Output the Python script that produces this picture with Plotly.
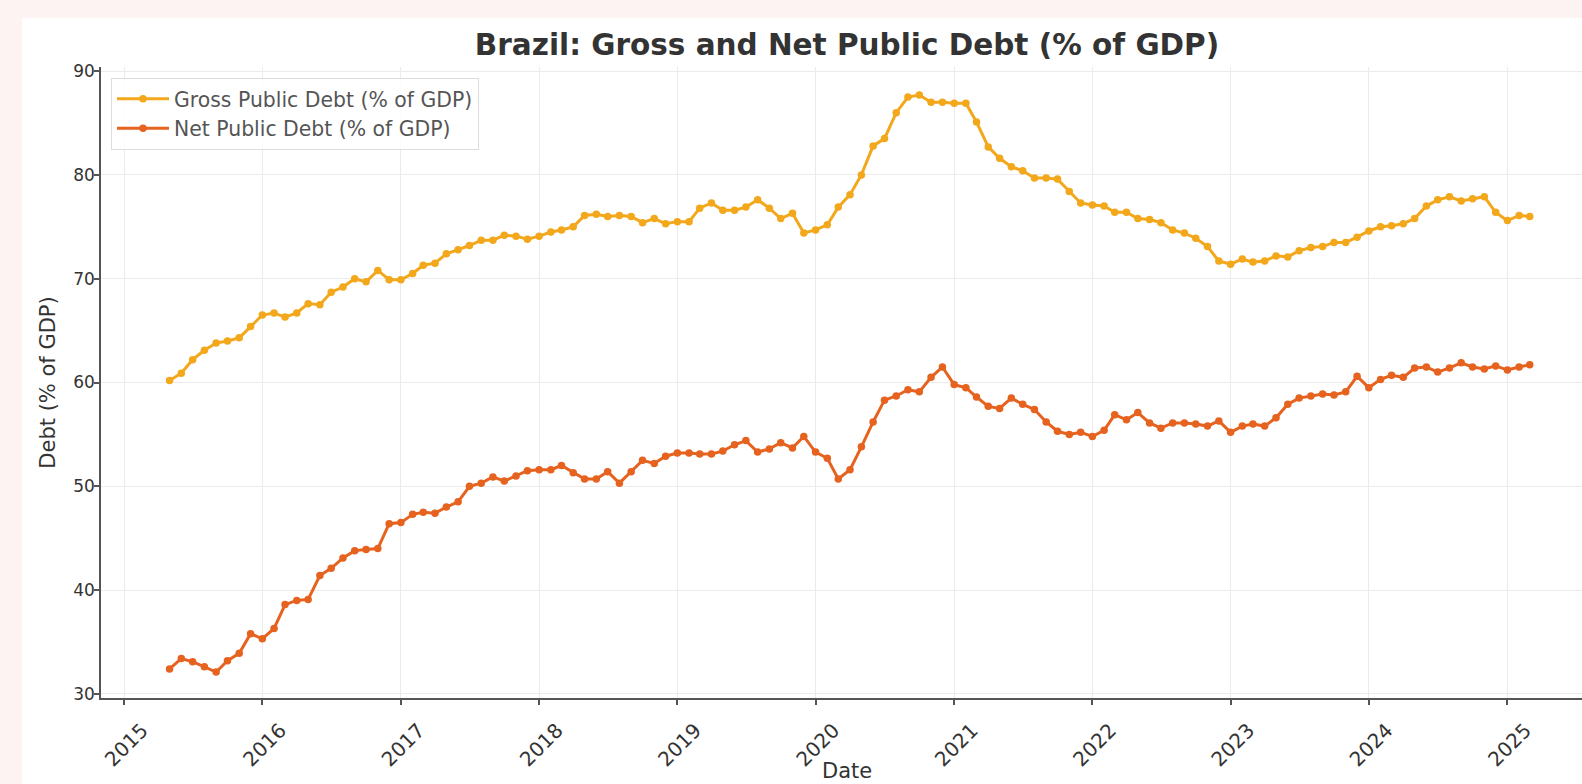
import pandas as pd
import plotly.graph_objects as go

# ---- data (monthly, May 2015 - Mar 2025) ----
start_month = "2015-05-01"
n_months = 119
dates = pd.date_range(start_month, periods=n_months, freq="MS")

gross_debt = [
    60.2, 60.9, 62.2, 63.1, 63.8, 64.0, 64.3, 65.4, 66.5, 66.7, 66.3, 66.7,
    67.6, 67.5, 68.7, 69.2, 70.0, 69.7, 70.8, 69.9, 69.9, 70.5, 71.3, 71.5,
    72.4, 72.8, 73.2, 73.7, 73.7, 74.2, 74.1, 73.8, 74.1, 74.5,
    74.7, 75.0, 76.1, 76.2, 76.0, 76.1, 76.0, 75.4, 75.8, 75.3, 75.5, 75.5,
    76.8, 77.3, 76.6, 76.6, 76.9, 77.6, 76.8, 75.8, 76.3, 74.4, 74.7, 75.2,
    76.9, 78.1, 80.0, 82.8, 83.5, 86.0, 87.5, 87.7, 87.0, 87.0, 86.9, 86.9,
    85.1, 82.7, 81.6, 80.8, 80.4, 79.7,
    79.7, 79.6, 78.4, 77.3, 77.1, 77.0, 76.4, 76.4, 75.8, 75.7, 75.4, 74.7,
    74.4, 73.9, 73.1, 71.7, 71.4, 71.9, 71.6, 71.7, 72.2, 72.1, 72.7, 73.0,
    73.1, 73.5, 73.5, 74.0, 74.6, 75.0, 75.1, 75.3, 75.8, 77.0, 77.6, 77.9,
    77.5, 77.7, 77.9, 76.4, 75.6, 76.1, 76.0,
]

net_debt = [
    32.4, 33.4, 33.1, 32.6, 32.1, 33.2, 33.9, 35.8, 35.3, 36.3, 38.6, 39.0,
    39.1, 41.4, 42.1, 43.1, 43.8, 43.9, 44.0, 46.4, 46.5, 47.3, 47.5, 47.4,
    48.0, 48.5, 50.0, 50.3, 50.9, 50.5, 51.0, 51.5, 51.6, 51.6,
    52.0, 51.3, 50.7, 50.7, 51.4, 50.3, 51.4, 52.5, 52.2, 52.9, 53.2, 53.2,
    53.1, 53.1, 53.4, 54.0, 54.4, 53.3, 53.6, 54.2, 53.7, 54.8, 53.3, 52.7,
    50.7, 51.6, 53.8, 56.2, 58.3, 58.7, 59.3, 59.1, 60.5, 61.5, 59.8, 59.5,
    58.6, 57.7, 57.5, 58.5, 57.9, 57.4,
    56.2, 55.3, 55.0, 55.2, 54.8, 55.4, 56.9, 56.4, 57.1, 56.1, 55.6, 56.1,
    56.1, 56.0, 55.8, 56.3, 55.2, 55.8, 56.0, 55.8, 56.6, 57.9, 58.5, 58.7,
    58.9, 58.8, 59.1, 60.6, 59.5, 60.3, 60.7, 60.5, 61.4, 61.5, 61.0, 61.4,
    61.9, 61.5, 61.3, 61.6, 61.2, 61.5, 61.7,
]

series_names = ["Gross Public Debt (% of GDP)", "Net Public Debt (% of GDP)"]
year_ticks = [f"{y}-01-01" for y in range(2015, 2026)]
year_labels = [str(y) for y in range(2015, 2026)]
y_ticks = [30, 40, 50, 60, 70, 80, 90]

GROSS_COLOR = "#F3A71B"
NET_COLOR = "#E6621F"
FONT = "DejaVu Sans"

W, H = 1582, 784
ML, MR, MT, MB = 101, 0, 67, 86

fig = go.Figure()
for name, vals, col, grp in [
    (series_names[0], gross_debt, GROSS_COLOR, "g"),
    (series_names[1], net_debt, NET_COLOR, "n"),
]:
    fig.add_trace(go.Scatter(
        x=dates, y=vals, name=name, mode="lines+markers",
        line=dict(color=col, width=3),
        marker=dict(color=col, size=7.5),
        legendgroup=grp,
    ))

plot_w = W - ML - MR
plot_h = H - MT - MB

fig.update_layout(
    width=W, height=H,
    margin=dict(l=ML, r=MR, t=MT, b=MB, pad=0, autoexpand=False),
    paper_bgcolor="#FDF3F3",
    plot_bgcolor="white",
    font=dict(family=FONT, color="#333333", size=18),
    title=dict(
        text="<b>Brazil: Gross and Net Public Debt (% of GDP)</b>",
        x=847 / W, xref="container", xanchor="center",
        y=1 - 45 / H, yref="container", yanchor="middle",
        font=dict(family=FONT, size=29.5, color="#333333"),
    ),
    showlegend=True,
    legend=dict(
        x=(111 - ML) / plot_w, y=(H - MB - 78) / plot_h,
        xanchor="left", yanchor="top",
        bgcolor="rgba(255,255,255,0.85)",
        bordercolor="#DDDDDD", borderwidth=1,
        font=dict(family=FONT, size=20.4, color="#555555"),
        traceorder="grouped", tracegroupgap=0,
        itemwidth=52,
    ),
    shapes=[dict(
        type="rect", xref="paper", yref="paper", layer="below",
        x0=(22 - ML) / plot_w, x1=1.0 + 10 / plot_w,
        y0=-(MB + 10) / plot_h, y1=(H - MB - 18) / plot_h,
        fillcolor="white", line=dict(width=0),
    )],
    annotations=[dict(
        text="Date", xref="paper", yref="paper",
        x=(847 - ML) / plot_w, y=-(771 - (H - MB)) / plot_h,
        xanchor="center", yanchor="middle", showarrow=False,
        font=dict(family=FONT, size=21, color="#333333"),
    )],
)

fig.update_xaxes(
    type="date",
    automargin=False,
    range=["2014-11-01", "2025-07-17"],
    tickmode="array", tickvals=year_ticks, ticktext=year_labels,
    tickangle=-45, ticklabelshift=18, ticklabelstandoff=6,
    ticks="outside", ticklen=5, tickwidth=1.5, tickcolor="#555555",
    tickfont=dict(family=FONT, size=20, color="#333333"),
    showgrid=True, gridcolor="#EBEBEB", gridwidth=1,
    showline=True, linecolor="#555555", linewidth=1.5,
    zeroline=False,
)
fig.update_yaxes(
    automargin=False,
    range=[29.6, 90.4],
    tickmode="array", tickvals=y_ticks,
    ticks="outside", ticklen=5, tickwidth=1.5, tickcolor="#555555",
    ticklabelstandoff=-4,
    tickfont=dict(family=FONT, size=17, color="#333333"),
    showgrid=True, gridcolor="#EBEBEB", gridwidth=1,
    showline=True, linecolor="#555555", linewidth=1.5,
    zeroline=False,
    title=dict(text="Debt (% of GDP)", font=dict(family=FONT, size=21, color="#333333"), standoff=12),
)

fig.write_html("out.html")
